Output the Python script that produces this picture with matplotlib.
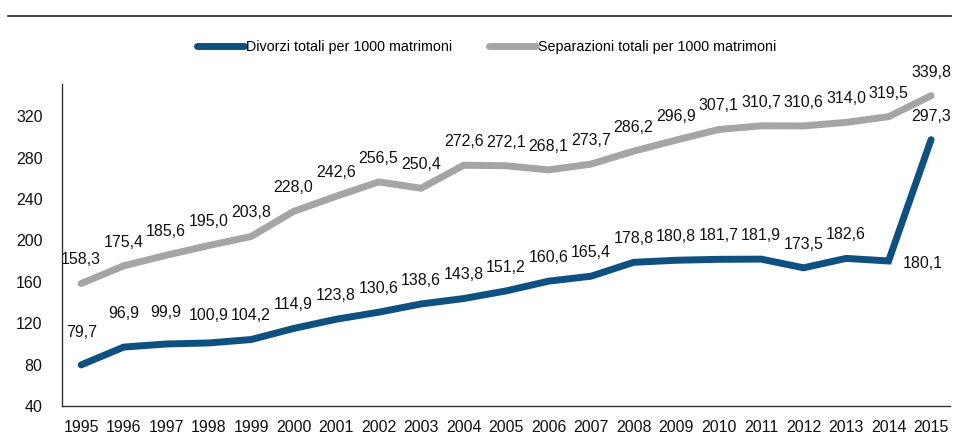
import matplotlib.pyplot as plt
import matplotlib.lines as mlines

plt.rcParams['font.family'] = ['Liberation Sans Narrow', 'Liberation Sans', 'DejaVu Sans']

years = [str(y) for y in range(1995, 2016)]
divorzi = [79.7, 96.9, 99.9, 100.9, 104.2, 114.9, 123.8, 130.6, 138.6, 143.8, 151.2,
           160.6, 165.4, 178.8, 180.8, 181.7, 181.9, 173.5, 182.6, 180.1, 297.3]
separazioni = [158.3, 175.4, 185.6, 195.0, 203.8, 228.0, 242.6, 256.5, 250.4, 272.6, 272.1,
               268.1, 273.7, 286.2, 296.9, 307.1, 310.7, 310.6, 314.0, 319.5, 339.8]
yticks = [40, 80, 120, 160, 200, 240, 280, 320]

blue = '#0E5181'
grey = '#A5A5A5'

def fmt(v):
    return f'{v:.1f}'.replace('.', ',')

fig = plt.figure(figsize=(9.54, 4.44), dpi=100)
ax = fig.add_axes([0.065, 0.0856, 0.931, 0.725])
x = list(range(len(years)))

ax.plot(x, separazioni, color=grey, lw=5, solid_joinstyle='miter', solid_capstyle='round')
ax.plot(x, divorzi, color=blue, lw=5, solid_joinstyle='miter', solid_capstyle='round')

for i, v in enumerate(separazioni):
    ax.annotate(fmt(v), (i, v), xytext=(0, 17), textcoords='offset points',
                ha='center', va='center', fontsize=11.5, color='#111111')

# the first few divorce labels sit a bit higher
lift = {0: 6, 1: 7, 2: 6, 3: 3}
for i, v in enumerate(divorzi):
    if i == len(divorzi) - 2:
        # 2014 label sits to the right of the point
        ax.annotate(fmt(v), (i, v), xytext=(10, -2), textcoords='offset points',
                    ha='left', va='center', fontsize=11.5, color='#111111')
    else:
        ax.annotate(fmt(v), (i, v), xytext=(0, 17 + lift.get(i, 0)), textcoords='offset points',
                    ha='center', va='center', fontsize=11.5, color='#111111')

ax.set_xlim(-0.45, 20.45)
ax.set_ylim(40, 351)
ax.set_xticks(x)
ax.set_xticklabels(years)
ax.set_yticks(yticks)
ax.tick_params(axis='both', length=0, labelsize=11.5, colors='#111111')
ax.tick_params(axis='y', pad=14)
ax.tick_params(axis='x', pad=10)
for s in ['top', 'right']:
    ax.spines[s].set_visible(False)
for s in ['left', 'bottom']:
    ax.spines[s].set_color('#333333')
    ax.spines[s].set_linewidth(1.0)

h1 = mlines.Line2D([], [], color=blue, lw=5, solid_capstyle='round')
h2 = mlines.Line2D([], [], color=grey, lw=5, solid_capstyle='round')
fig.legend([h1, h2], ['Divorzi totali per 1000 matrimoni', 'Separazioni totali per 1000 matrimoni'],
           loc='center', bbox_to_anchor=(0.51, 0.895), ncol=2, frameon=False, fontsize=10.3,
           handlelength=3.3, handletextpad=0.1, columnspacing=2.6)

# rule under the heading
fig.add_artist(mlines.Line2D([0.008, 0.997], [0.964, 0.964], color='#222222', lw=1.2))

fig.savefig('out.png', dpi=100)
